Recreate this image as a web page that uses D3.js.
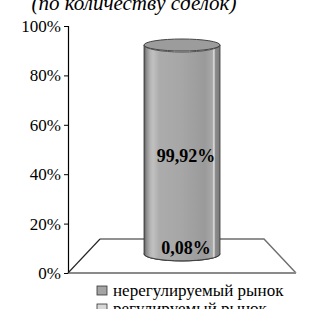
<!DOCTYPE html>
<html>
<head>
<meta charset="utf-8">
<script src="https://cdn.jsdelivr.net/npm/d3@7"></script>
<style>
  body { margin: 0; background: #fff; }
  svg { display: block; }
  text { font-family: "Liberation Serif", "Times New Roman", serif; fill: #000; }
</style>
</head>
<body>
<svg id="chart" width="316" height="309"></svg>
<script>
// данные
var categories = ['регулируемый рынок', 'нерегулируемый рынок']   // снизу вверх
var values = [0.08, 99.92]
var valueLabels = ['0,08%', '99,92%']
var tickValues = [0, 20, 40, 60, 80, 100]
var legendOrder = ['нерегулируемый рынок', 'регулируемый рынок']
var title = '(по количеству сделок)'

var colors = {'нерегулируемый рынок': '#a4a4a4', 'регулируемый рынок': '#d8d8d8'}

var svg = d3.select('#chart')

// заголовок (в оригинале обрезан сверху)
svg.append('text')
    .attr('x', 134).attr('y', 10)
    .attr('text-anchor', 'middle')
    .style('font-size', '21px')
    .style('font-style', 'italic')
    .text(title)

// ось
var y = d3.scaleLinear().domain([0, 100]).range([273, 26])
var axisX = 68

var axis = svg.append('g')
    .attr('transform', 'translate(' + axisX + ',0)')
    .call(d3.axisLeft(y).tickValues(tickValues).tickSize(4).tickPadding(3)
        .tickFormat(function(d) { return d + '%' }))
axis.select('.domain').attr('stroke', '#000').attr('stroke-width', 1.2)
axis.selectAll('.tick line').attr('stroke', '#000')
axis.selectAll('.tick text')
    .style('font-size', '17px')
    .style('font-family', '"Liberation Serif", "Times New Roman", serif')
    .attr('fill', '#000')

// пол
var floorW = 228, depthX = 32, depthY = 34
var y0 = y(0)
svg.append('path')
    .attr('d', 'M' + (axisX + depthX) + ',' + (y0 - depthY) +
        'L' + (axisX + floorW - depthX) + ',' + (y0 - depthY) +
        'L' + (axisX + floorW) + ',' + y0)
    .attr('fill', 'none').attr('stroke', '#6e6e6e').attr('stroke-width', 1.4)
svg.append('line')
    .attr('x1', axisX).attr('y1', y0).attr('x2', axisX + floorW).attr('y2', y0)
    .attr('stroke', '#8a8a8a').attr('stroke-width', 1.8)
svg.append('line')
    .attr('x1', axisX).attr('y1', y0).attr('x2', axisX + depthX).attr('y2', y0 - depthY)
    .attr('stroke', '#222').attr('stroke-width', 1.1)

// цилиндр
var defs = svg.append('defs')
var grad = defs.append('linearGradient').attr('id', 'cyl').attr('x1', 0).attr('x2', 1).attr('y1', 0).attr('y2', 0)
var stops = [[0, '#5a5a5a'], [0.03, '#8a8a8a'], [0.08, '#b4b4b4'], [0.12, '#c0c0c0'], [0.2, '#acacac'],
    [0.5, '#a6a6a6'], [0.8, '#9a9a9a'], [0.9, '#a8a8a8'], [0.92, '#e4e4e4'], [0.94, '#8c8c8c'], [1, '#7a7a7a']]
stops.forEach(function(s) { grad.append('stop').attr('offset', s[0]).attr('stop-color', s[1]) })

var cx = 182, rx = 38, ry = 7
var yc = d3.scaleLinear().domain([0, 100]).range([254, 45])

var stacked = []
var acc = 0
values.forEach(function(v, i) {
    stacked.push({cat: categories[i], v0: acc, v1: acc + v, label: valueLabels[i]})
    acc += v
})

stacked.forEach(function(d) {
    var top = yc(d.v1), bot = yc(d.v0)
    svg.append('path')
        .attr('d', 'M' + (cx - rx) + ',' + top + 'L' + (cx - rx) + ',' + bot +
            'A' + rx + ',' + ry + ' 0 0 0 ' + (cx + rx) + ',' + bot +
            'L' + (cx + rx) + ',' + top +
            'A' + rx + ',' + ry + ' 0 0 1 ' + (cx - rx) + ',' + top + 'Z')
        .attr('fill', 'url(#cyl)')
        .attr('stroke', '#333').attr('stroke-width', 0.8)
})

// верх цилиндра
svg.append('ellipse')
    .attr('cx', cx).attr('cy', yc(acc)).attr('rx', rx).attr('ry', ry - 1)
    .attr('fill', '#9c9c9c').attr('stroke', '#444').attr('stroke-width', 1)

// подписи
svg.selectAll('.vlab').data(stacked).enter().append('text')
    .attr('class', 'vlab')
    .attr('x', 186)
    .attr('y', function(d, i) { return i == 0 ? 254 : 162 })
    .attr('text-anchor', 'middle')
    .style('font-size', '18px').style('font-weight', 'bold')
    .text(function(d) { return d.label })

// легенда
var leg = svg.selectAll('.leg').data(legendOrder).enter().append('g')
    .attr('class', 'leg')
    .attr('transform', function(d, i) { return 'translate(97,' + (286 + i * 18) + ')' })
leg.append('rect').attr('width', 10).attr('height', 9)
    .attr('fill', function(d) { return colors[d] })
    .attr('stroke', '#333').attr('stroke-width', 0.8)
leg.append('text').attr('x', 16).attr('y', 9.5)
    .style('font-size', '17px')
    .text(function(d) { return d })
</script>
</body>
</html>
